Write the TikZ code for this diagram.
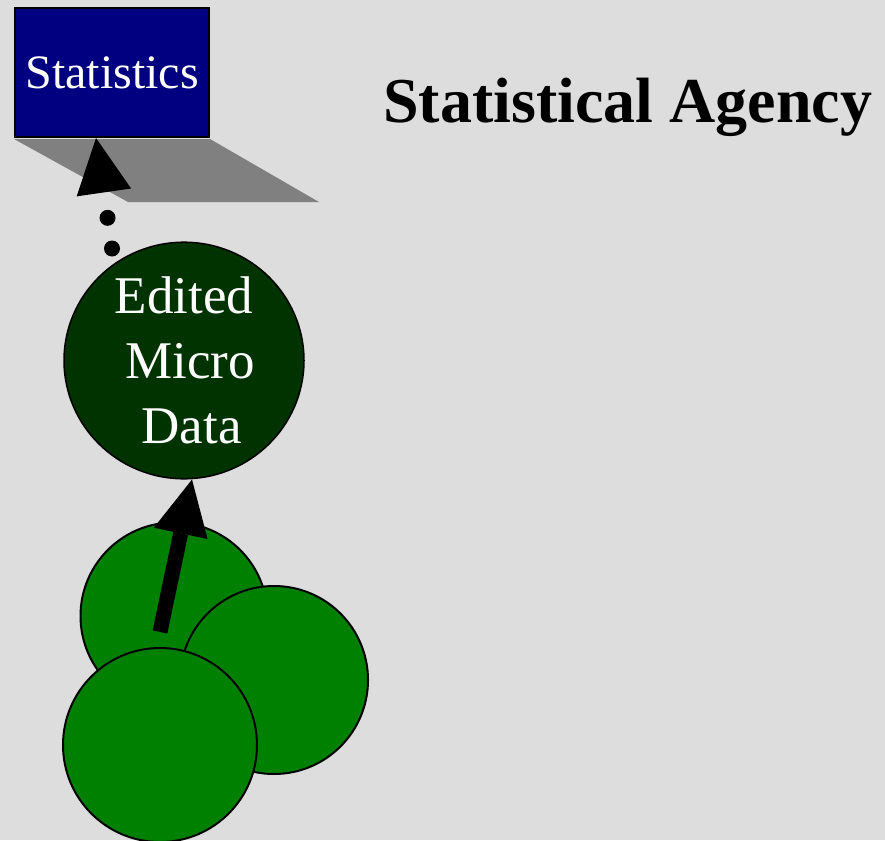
\documentclass[tikz,border=0pt]{standalone}
\usepackage{fontspec}
\setmainfont{Liberation Serif}
\usetikzlibrary{arrows.meta,shapes.geometric}

\definecolor{statblue}{HTML}{000080}
\definecolor{microgreen}{HTML}{003300}
\definecolor{unitgreen}{HTML}{008000}
\definecolor{pagegray}{HTML}{DDDDDD}
\definecolor{shadowgray}{HTML}{808080}

\tikzset{
  statbox/.style={rectangle,draw=black,line width=2pt,fill=statblue,text=white,
    minimum width=194pt,minimum height=129pt,inner sep=0pt,
    font=\fontsize{48}{55}\selectfont},
  microdata/.style={ellipse,draw=black,line width=1.5pt,fill=microgreen,text=white,
    minimum width=240pt,minimum height=226pt,inner sep=0pt,align=center,
    font=\fontsize{53}{65}\selectfont},
  unit/.style={circle,draw=black,line width=2pt,fill=unitgreen,inner sep=0pt},
  bigtip/.style={-{Triangle[length=#1,width=#1,line width=0pt]}}
}

\begin{document}
\begin{tikzpicture}[x=1pt,y=-1pt]
\useasboundingbox (0,0) rectangle (885,840);
\fill[pagegray] (0,0) rectangle (885,840);

% output box and its shadow
\node[statbox] (stats) at (112,72.5) {Statistics};
\fill[shadowgray] ([yshift=-1pt]stats.south west) -- ([yshift=-1pt]stats.south east)
  -- ++(109,63) -- ++(-191,0) -- cycle;

\node[anchor=base west,inner sep=0pt,font=\fontsize{64}{70}\selectfont\bfseries]
  (agency) at (383,122) {Statistical Agency};

\node[microdata] (micro) at (184,360.5) {Edited\\\hspace*{12pt}Micro\\\hspace*{15pt}Data};

% respondents
\node[unit,minimum size=187pt] (r1) at (174,616) {};
\draw[line width=15pt,bigtip=55pt] ([shift={(-14,16)}]r1.center) -- ([xshift=8pt]micro.south);
\node[unit,minimum size=188pt] (r2) at (274,680) {};
\node[unit,minimum size=194pt] (r3) at (160,745) {};

% dotted link up to the statistics
\draw[line width=16pt,line cap=round,dash pattern=on 0pt off 31pt,bigtip=55pt]
  ([shift={(-72,-112)}]micro.center) -- ([xshift=-16pt]stats.south);
\end{tikzpicture}
\end{document}
